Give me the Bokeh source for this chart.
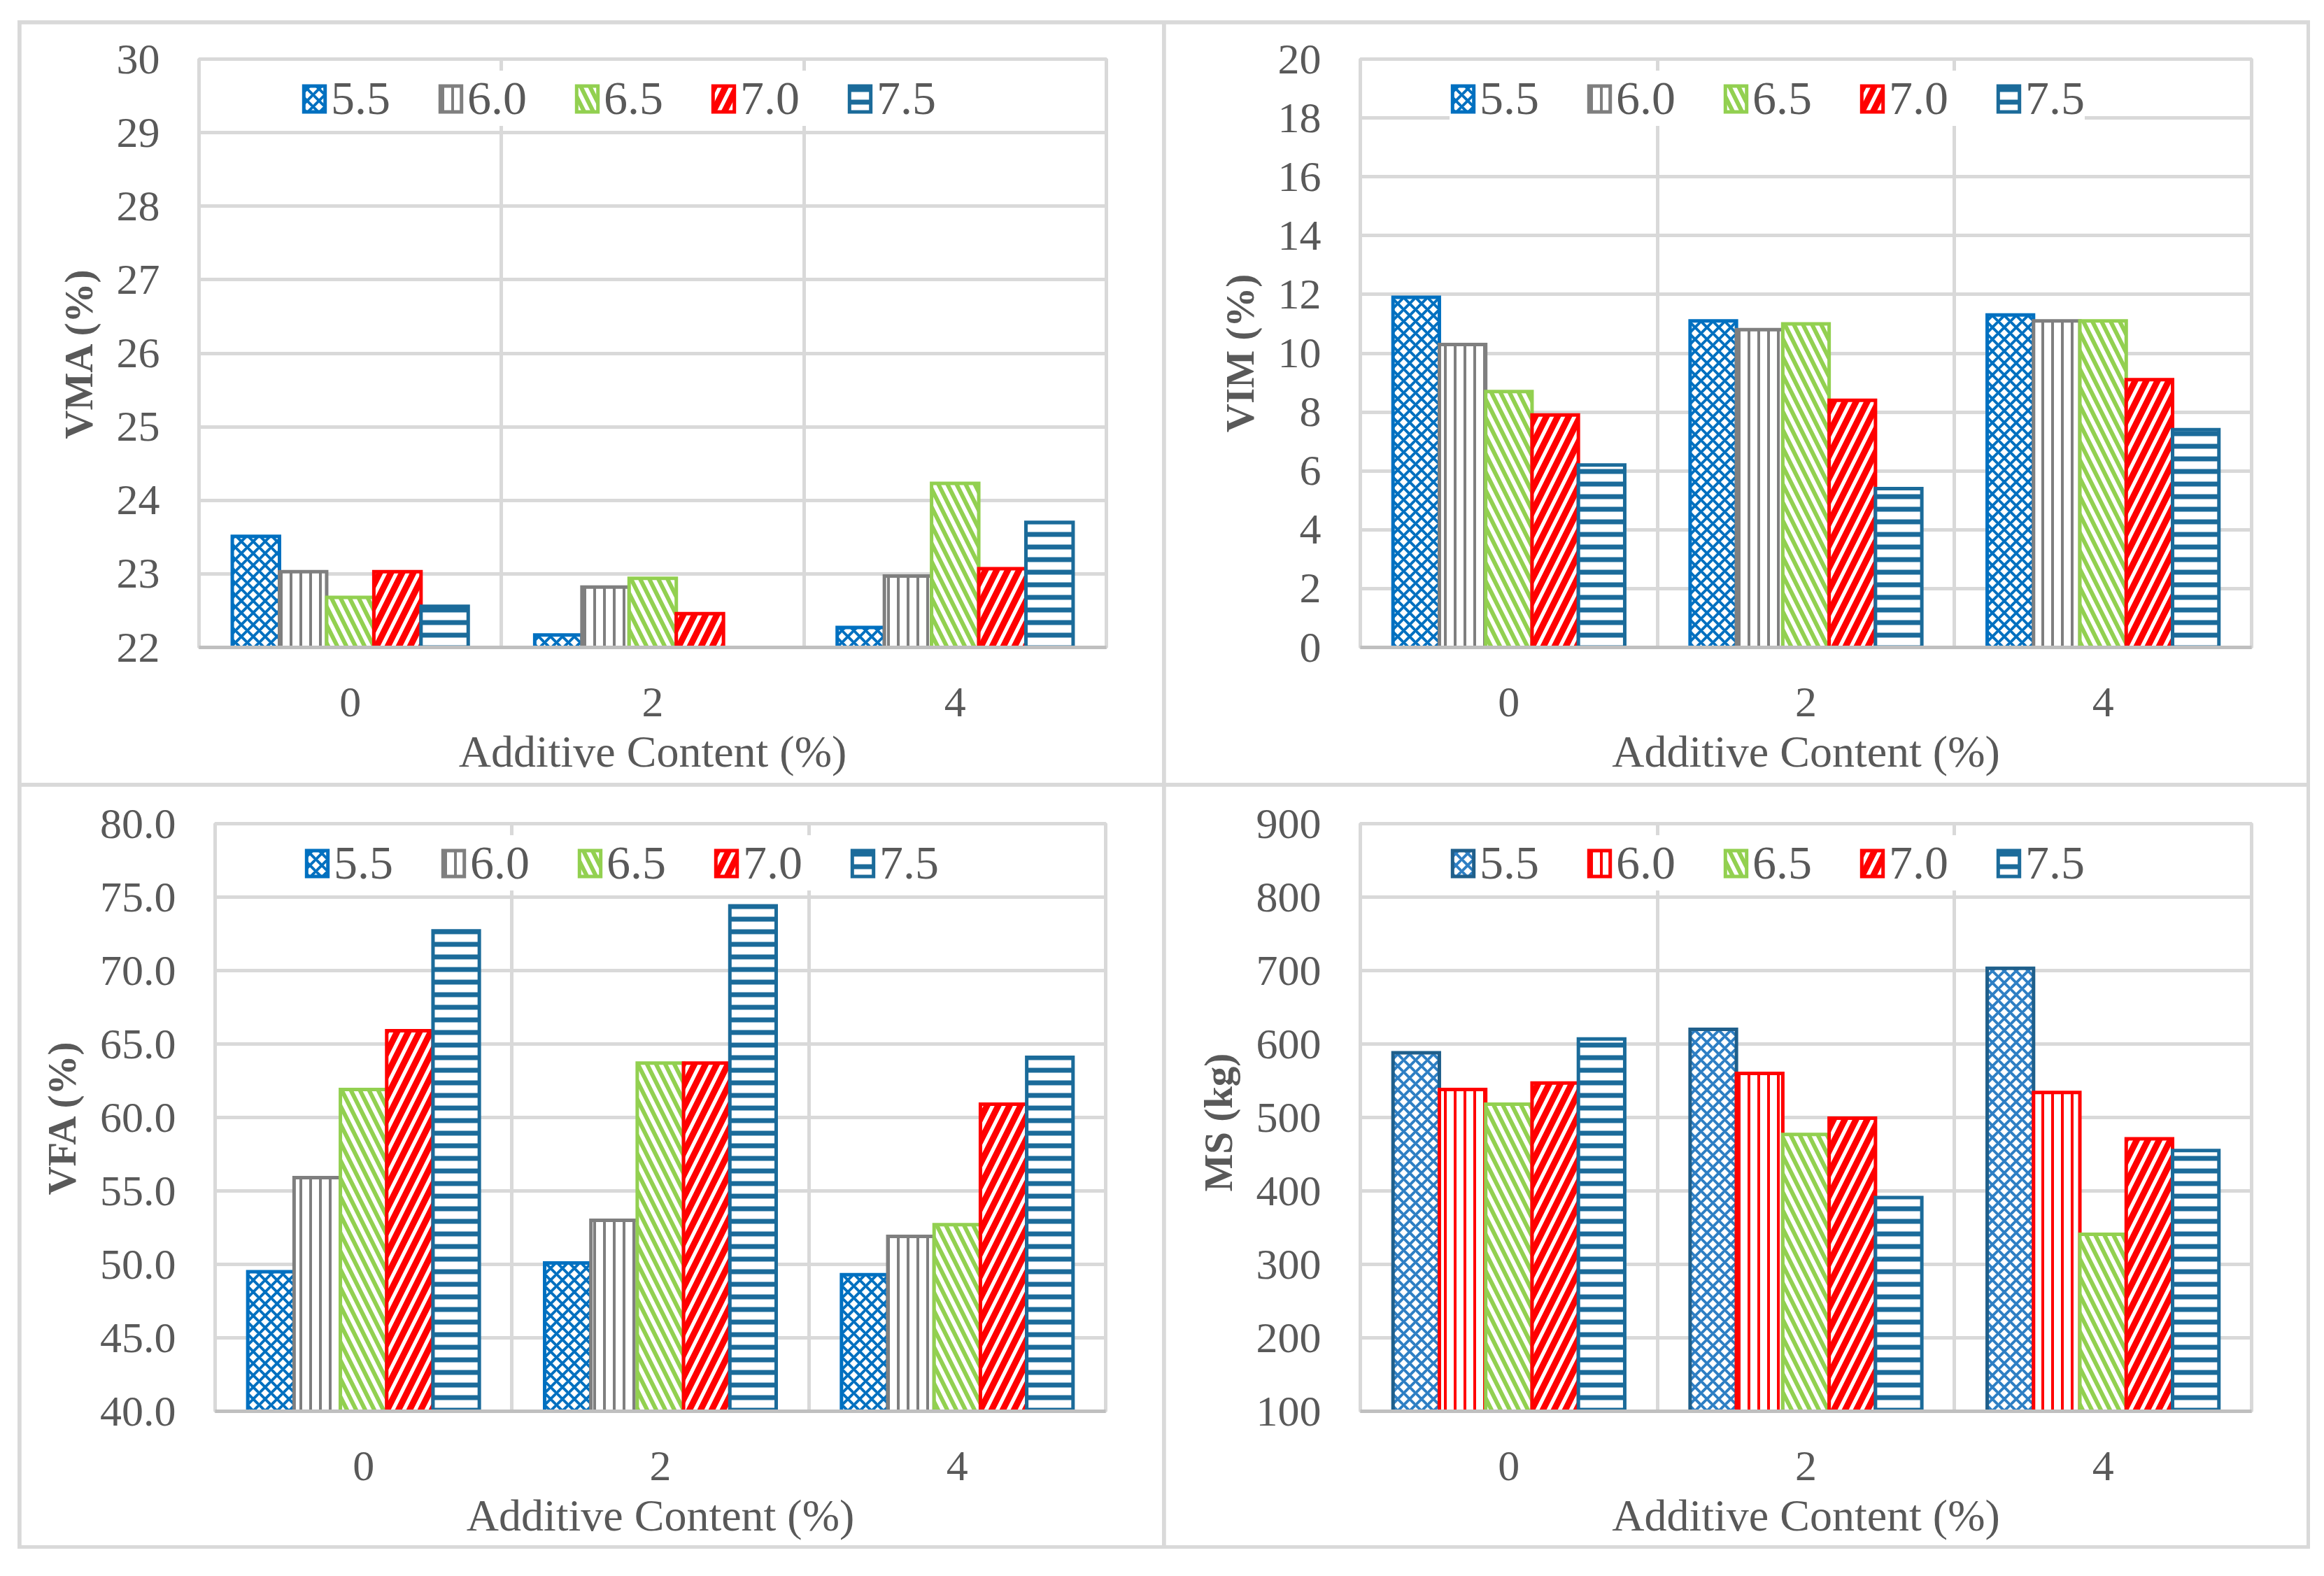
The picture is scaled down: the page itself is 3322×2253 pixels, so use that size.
import math
from bokeh.plotting import figure
from bokeh.models import (ColumnDataSource, Range1d, FixedTicker, Legend, LegendItem,
                          NumeralTickFormatter)
from bokeh.transform import dodge
from bokeh.layouts import row, column
from bokeh.embed import file_html
from bokeh.resources import INLINE

NaN = float("nan")

# ---------------- data ----------------
additive = ["0", "2", "4"]
binder = ["5.5", "6.0", "6.5", "7.0", "7.5"]

vma_55 = [23.51, 22.17, 22.27]
vma_60 = [23.03, 22.82, 22.97]
vma_65 = [22.68, 22.94, 24.23]
vma_70 = [23.03, 22.46, 23.07]
vma_75 = [22.56, NaN, 23.70]

vim_55 = [11.9, 11.1, 11.3]
vim_60 = [10.3, 10.8, 11.1]
vim_65 = [8.7, 11.0, 11.1]
vim_70 = [7.9, 8.4, 9.1]
vim_75 = [6.2, 5.4, 7.4]

vfa_55 = [49.5, 50.1, 49.3]
vfa_60 = [55.9, 53.0, 51.9]
vfa_65 = [61.9, 63.7, 52.7]
vfa_70 = [65.9, 63.7, 60.9]
vfa_75 = [72.7, 74.4, 64.1]

ms_55 = [588, 620, 703]
ms_60 = [538, 560, 534]
ms_65 = [518, 477, 341]
ms_70 = [547, 499, 471]
ms_75 = [607, 391, 455]

vma_ticks = [22, 23, 24, 25, 26, 27, 28, 29, 30]
vim_ticks = [0, 2, 4, 6, 8, 10, 12, 14, 16, 18, 20]
vfa_ticks = [40, 45, 50, 55, 60, 65, 70, 75, 80]
ms_ticks = [100, 200, 300, 400, 500, 600, 700, 800, 900]

# ---------------- styles ----------------
FONT = "Liberation Serif"
TXT = "#595959"
GRID = "#D9D9D9"
AXIS = "#BFBFBF"

BLUE = "#0070C0"
GREY = "#7F7F7F"
GREEN = "#92D050"
RED = "#FF0000"
TEAL = "#1B6B9A"
DKBLUE = "#1F5F8B"

def style(line, hatch, pattern, scale, weight):
    return dict(line_color=line, hatch_color=hatch, hatch_pattern=pattern,
                hatch_scale=scale, hatch_weight=weight)

std_styles = [
    style(BLUE, BLUE, "diagonal_cross", 17, 4),
    style(GREY, GREY, "vertical_line", 14, 4),
    style(GREEN, GREEN, "left_diagonal_line", 26, 6),
    style(RED, RED, "right_diagonal_line", 32, 9),
    style(TEAL, TEAL, "horizontal_line", 18, 7),
]
ms_styles = [
    style(DKBLUE, "#2E7FC4", "diagonal_cross", 17, 4),
    style(RED, RED, "vertical_line", 14, 4),
    style(GREEN, GREEN, "left_diagonal_line", 26, 6),
    style(RED, RED, "right_diagonal_line", 32, 9),
    style(TEAL, TEAL, "horizontal_line", 18, 7),
]

BAR_W = 0.156
OFFSETS = [-2 * BAR_W, -BAR_W, 0.0, BAR_W, 2 * BAR_W]


def make_chart(series, ylabel, ticks, styles, borders, fmt=None, legend_x=110, legend_top=63):
    left, fw, right, top, fh, bottom = borders
    y0, y1 = ticks[0], ticks[-1]
    p = figure(output_backend="svg", toolbar_location=None,
               frame_width=fw, frame_height=fh,
               min_border_left=left, min_border_right=right,
               min_border_top=top, min_border_bottom=bottom,
               x_range=Range1d(-0.5, 2.5), y_range=Range1d(y0, y1),
               background_fill_color="white", border_fill_color="white")
    p.outline_line_color = GRID
    p.outline_line_width = 5

    data = {"x": list(range(len(additive)))}
    for b, vals in zip(binder, series):
        data[b] = vals
    src = ColumnDataSource(data)

    items = []
    for b, off, st in zip(binder, OFFSETS, styles):
        r = p.vbar(x=dodge("x", off, range=p.x_range), top=b, bottom=y0, width=BAR_W,
                   source=src, fill_color="white", line_width=5, line_join="miter", **st)
        items.append(LegendItem(label=b, renderers=[r]))

    # axes
    xa = p.xaxis[0]
    xa.ticker = FixedTicker(ticks=list(range(len(additive))))
    xa.major_label_overrides = {i: a for i, a in enumerate(additive)}
    xa.axis_label = "Additive Content (%)"
    ya = p.yaxis[0]
    ya.ticker = FixedTicker(ticks=ticks)
    ya.axis_label = ylabel
    if fmt:
        ya.formatter = NumeralTickFormatter(format=fmt)
    for ax in (xa, ya):
        ax.major_tick_line_color = None
        ax.minor_tick_line_color = None
        ax.major_label_text_font = FONT
        ax.major_label_text_font_size = "62px"
        ax.major_label_text_color = TXT
        ax.axis_label_text_font = FONT
        ax.axis_label_text_font_size = "64px"
        ax.axis_label_text_color = TXT
        ax.axis_label_text_font_style = "normal"
    ya.axis_line_color = None
    ya.major_label_standoff = 50
    ya.axis_label_standoff = 20
    ya.axis_label_text_font_style = "bold"
    ya.axis_label_text_font_size = "57px"
    xa.axis_line_color = AXIS
    xa.axis_line_width = 5
    xa.major_label_standoff = 52
    xa.axis_label_standoff = 12

    p.ygrid.ticker = FixedTicker(ticks=ticks)
    p.ygrid.grid_line_color = GRID
    p.ygrid.grid_line_width = 5
    p.xgrid.ticker = FixedTicker(ticks=[0.5, 1.5])
    p.xgrid.grid_line_color = GRID
    p.xgrid.grid_line_width = 5

    lg_h = 112
    legend = Legend(items=items, orientation="horizontal",
                    location=(legend_x, fh - legend_top - lg_h // 2),
                    glyph_width=38, glyph_height=46, label_standoff=5, spacing=67,
                    padding=20, margin=0,
                    label_text_font=FONT, label_text_font_size="68px",
                    label_text_color=TXT, border_line_color=None,
                    background_fill_color="white", background_fill_alpha=1.0)
    p.add_layout(legend)
    return p


p1 = make_chart([vma_55, vma_60, vma_65, vma_70, vma_75], "VMA (%)", vma_ticks, std_styles,
                (254, 1297, 80, 50, 841, 194), legend_x=146, legend_top=40)
p2 = make_chart([vim_55, vim_60, vim_65, vim_70, vim_75], "VIM (%)", vim_ticks, std_styles,
                (278, 1274, 79, 50, 841, 194), legend_x=128, legend_top=40)
p3 = make_chart([vfa_55, vfa_60, vfa_65, vfa_70, vfa_75], "VFA (%)", vfa_ticks, std_styles,
                (277, 1273, 81, 53, 840, 192), fmt="0.0", legend_x=127, legend_top=40)
p4 = make_chart([ms_55, ms_60, ms_65, ms_70, ms_75], "MS  (kg)", ms_ticks, ms_styles,
                (278, 1274, 79, 53, 840, 192), legend_x=128, legend_top=40)

layout = column(row(p1, p2, spacing=5), row(p3, p4, spacing=5), spacing=5,
                margin=(29, 0, 0, 25),
                styles={"background-color": GRID, "padding": "5px"})

open("out.html", "w").write(file_html(layout, INLINE))
